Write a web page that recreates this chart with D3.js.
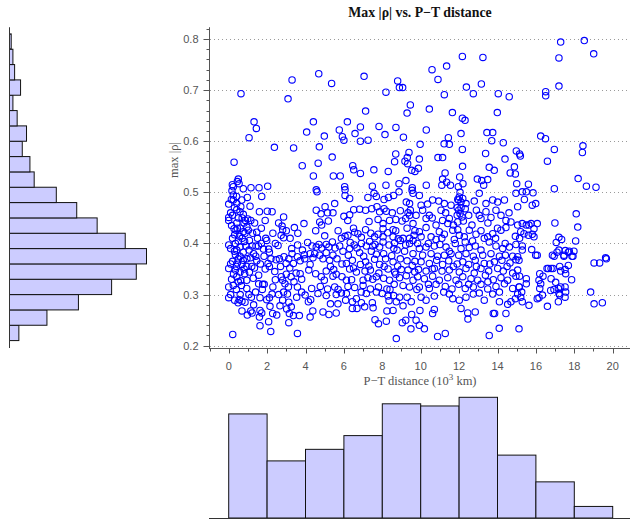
<!DOCTYPE html>
<html><head><meta charset="utf-8">
<script src="https://cdn.jsdelivr.net/npm/d3@7"></script>
<style>body{margin:0;background:#fff;overflow:hidden}</style>
</head><body>
<svg id="c" width="630" height="521"></svg>
<script>
// ---- data ----
const distance_maxRho = [
// upper band, x 0..10
[0.64,.693],[3.3,.72],[3.09,.683],[4.69,.732],[5.36,.713],[7.05,.727],[8.8,.718],[8.89,.705],[9.06,.705],[8.19,.696],[7.13,.659],[9.46,.671],[9.29,.655],[1.32,.638],[1.44,.625],[1.06,.607],[4.41,.638],[4.06,.618],[4.98,.61],[6.18,.638],[5.76,.622],[5.92,.609],[6.0,.602],[6.58,.615],[6.86,.628],[6.86,.6],[7.26,.602],[7.83,.629],[8.14,.613],[8.71,.627],[9.1,.608],[9.97,.594],
[2.38,.588],[3.38,.587],[4.72,.589],[0.28,.559],[3.83,.552],[4.66,.557],[5.39,.569],[4.41,.532],[5.45,.532],[5.81,.532],[6.46,.552],[6.51,.544],[6.86,.537],[7.56,.544],[8.31,.541],[8.64,.56],[8.7,.575],[9.39,.578],[9.3,.568],[9.18,.561],[9.32,.556],[9.53,.543],[9.7,.541],[9.88,.547],[9.23,.523],[8.87,.517],[8.19,.514],[7.48,.512],[6.04,.511],[4.56,.505],[2.03,.512],[0.5,.526],[0.45,.521],[0.19,.515],[0.24,.511],[0.54,.517],[1.16,.509],[1.58,.509],[0.76,.507],[9.56,.509],
// upper band, x 10..20
[17.29,.794],[18.52,.797],[19.01,.771],[17.2,.763],[12.17,.766],[13.24,.764],[10.59,.74],[11.35,.747],[10.9,.721],[13.16,.712],[12.38,.706],[12.74,.693],[11.23,.691],[14.04,.693],[14.61,.687],[16.51,.697],[16.51,.689],[17.2,.708],[10.45,.663],[11.65,.656],[12.17,.645],[12.31,.641],[13.99,.656],[10.29,.622],[12.1,.615],[13.45,.617],[13.75,.617],[13.7,.601],[14.3,.597],[11.44,.607],[11.22,.595],[11.49,.594],[16.25,.61],[16.5,.605],[16.96,.584],[18.45,.591],[18.42,.578],[12.17,.584],[13.38,.576],[10.9,.568],[11.14,.568],[9.93,.565],[14.98,.581],[15.15,.575],[15.19,.571],[14.39,.565],[16.6,.561],[12.18,.551],[13.57,.549],[13.83,.543],[14.88,.55],[14.66,.538],[14.93,.536],[11.27,.538],[12.03,.53],[12.95,.526],[13.18,.523],[13.49,.525],[11.14,.526],[11.35,.52],[12.2,.517],[15.0,.517],[15.61,.516],[18.2,.527],[18.63,.512],[19.13,.51],[10.29,.514],[11.1,.514],[11.55,.514],[11.96,.511],[13.28,.514],[16.96,.507],
// dense band, x 0..4.5
[1.72,.492],[0.14,.486],[0,.477],[0.24,.485],[0.42,.478],[0.68,.485],[0.97,.49],[1.11,.473],[0.63,.472],
[0.42,.466],[0.59,.462],[0.76,.457],[0,.451],[0,.445],[0.87,.445],[0.99,.448],[1.15,.445],[1.6,.462],[2.01,.463],[2.26,.462],[2.86,.452],[0.8,.44],[0.95,.432],[0.42,.44],
[0.28,.429],[0.38,.426],[0.76,.423],[1.02,.426],[1.46,.422],[0.31,.417],[0.56,.414],[2.78,.434],[2.81,.427],[2.73,.416],[3.42,.431],[3.92,.439],[1.93,.41],[1.98,.406],[2.86,.411],[2.57,.396],
[0,.397],[0.35,.4],[0.59,.393],[0.83,.404],[1.08,.406],[1.22,.395],[1.42,.395],[0.42,.387],[0.76,.383],[1.06,.387],[1.81,.389],[2.08,.389],[2.43,.4],[2.12,.383],[1.41,.375],[3.28,.39],[3.59,.397],[3.84,.387],[4.11,.402],[4.34,.395],[3.94,.378],[4.24,.38],[4.39,.372],
[0.35,.378],[0.59,.375],[0.76,.367],[0.45,.362],[0.69,.359],[0.94,.355],[1.13,.372],[1.46,.366],[1.84,.375],[2.05,.361],[2.12,.355],[2.47,.368],[2.64,.37],[2.88,.374],[2.99,.361],[3.13,.37],[3.37,.361],[3.58,.374],[3.72,.366],[3.96,.37],[4.24,.359],[0,.351],[0.35,.348],[0.59,.344],[0.83,.341],[1.08,.344],[1.34,.352],[1.56,.338],[3.18,.352],[3.51,.342],[3.72,.341],[4.17,.348],
[0.42,.335],[0.63,.327],[0.94,.328],[1.28,.332],[1.56,.321],[1.77,.32],[2.43,.329],[2.74,.335],[2.81,.328],[2.93,.321],[3.11,.315],[3.25,.335],[3.58,.315],[0,.315],[0.24,.318],[0.66,.318],[0.94,.312],[1.18,.295],[2.26,.301],[2.12,.294],[3.06,.301],[2.86,.305],[3.54,.295],[3.98,.299],[4.32,.312],
[0,.294],[0.31,.289],[0.49,.284],[0.69,.287],[1.63,.294],[1.98,.29],[2.15,.277],[2.67,.278],[2.81,.289],[3.13,.285],[3.26,.276],[3.02,.272],[0.69,.268],[1.15,.268],[1.22,.264],[1.63,.269],[1.72,.264],[0.97,.26],[1.6,.256],[2.29,.263],[2.5,.26],[3.16,.263],[3.37,.259],[3.68,.259],[4.15,.286],[4.27,.29],[4.38,.268],[4.24,.256],
[2.08,.247],[1.63,.239],[2.19,.228],[3.13,.245],[0.21,.222],[3.58,.224],
[0.17,.503],[0.24,.495],[0.41,.492],[0.3,.47],[0.1,.46],[0.2,.455],[0.5,.45],[0.15,.435],[0.45,.43],[0.2,.41],[0.5,.405],[0.1,.39],[0.3,.385],[0.5,.37],[0.2,.365],[0.1,.36],[0.4,.355],[0.25,.34],[0.5,.325],[0.15,.33],[0.4,.31],[0.6,.3],[0.1,.3],[0.55,.29],[0.8,.35],[0.85,.42],[0.7,.45],[0.9,.395],
[1.25,.42],[1.35,.44],[1.7,.43],[1.9,.445],[1.5,.41],[1.3,.38],[1.65,.36],[1.9,.35],[1.2,.355],[1.75,.31],[1.4,.305],[1.05,.3],[0.85,.285],[1.3,.28],[0.6,.43],[0.7,.41],[0.95,.37],[1.55,.395],[1.7,.4],[1.85,.32],
[2.3,.42],[2.6,.44],[3.0,.425],[3.2,.41],[3.6,.42],[2.4,.345],[2.7,.355],[3.0,.34],[3.4,.325],[3.8,.33],[2.3,.315],[2.6,.3],[3.8,.305],[3.3,.38],[2.2,.37],
// dense band, x 4.5..9.8
[4.6,.501],[6.06,.505],[6.3,.488],[6.06,.494],[7.25,.49],[7.57,.498],[7.69,.492],[8.09,.486],[8.32,.49],[8.59,.494],[8.87,.501],[9.55,.504],[9.6,.498],[9.25,.481],[9.42,.478],[5.52,.478],[5.02,.472],[4.56,.465],
[4.81,.458],[5.15,.46],[5.43,.46],[4.74,.442],[4.84,.436],[5.19,.444],[6.0,.453],[6.2,.445],[6.3,.456],[6.51,.466],[6.82,.467],[7.13,.465],[7.45,.468],[7.72,.472],[8.09,.468],[7.86,.462],[8.21,.463],[8.52,.46],[8.94,.464],[9.34,.46],[9.46,.465],[7.31,.443],[7.78,.447],[8.04,.439],[8.38,.445],[8.7,.447],[9.03,.444],[9.22,.449],[9.42,.455],[9.6,.439],[9.29,.43],[8.56,.427],[8.04,.429],
[4.53,.425],[6.06,.414],[6.21,.416],[6.56,.422],[6.73,.419],[7.13,.427],[6.91,.412],[7.6,.413],[7.78,.418],[8.04,.413],[8.28,.421],[8.56,.413],[8.83,.409],[9.08,.41],[9.42,.41],[9.65,.416],[5.87,.41],[5.4,.403],[5.08,.398],[4.7,.398],
[4.56,.393],[4.84,.391],[5.22,.393],[5.54,.391],[5.78,.395],[6.33,.402],[6.54,.397],[6.68,.391],[6.91,.4],[7.17,.395],[7.34,.404],[7.62,.398],[7.86,.393],[8.04,.403],[8.35,.397],[8.64,.401],[8.94,.406],[9.22,.397],[9.42,.4],[9.6,.406],[4.48,.38],[4.74,.377],[5.08,.382],[5.43,.377],[5.95,.385],[6.23,.377],[6.82,.382],[7.03,.375],[7.43,.385],[7.69,.379],[8.07,.38],[8.49,.376],[8.77,.387],[9.16,.385],[9.6,.38],
[4.91,.37],[5.26,.367],[5.64,.37],[6.13,.361],[6.44,.367],[6.86,.359],[7.13,.364],[7.6,.369],[7.86,.359],[8.17,.37],[8.56,.364],[8.94,.37],[9.29,.366],[9.56,.357],[4.53,.341],[5.08,.346],[5.47,.349],[5.6,.34],[6.3,.35],[6.65,.344],[7.1,.346],[7.38,.348],[7.82,.342],[8.3,.35],[8.64,.344],[8.99,.349],[9.34,.348],[9.69,.344],
[4.82,.335],[4.98,.328],[5.43,.336],[6.13,.328],[6.4,.329],[7.0,.328],[7.25,.333],[7.69,.335],[8.07,.332],[8.38,.328],[8.9,.333],[9.25,.337],[9.6,.328],[4.77,.316],[5.15,.311],[5.52,.315],[6.21,.316],[6.56,.314],[7.0,.318],[7.38,.311],[7.8,.315],[8.24,.311],[8.62,.32],[9.08,.318],[9.42,.315],
[4.65,.302],[5.08,.298],[5.6,.3],[5.87,.303],[6.13,.302],[6.65,.292],[7.17,.302],[7.69,.305],[8.0,.302],[8.3,.297],[8.59,.298],[8.9,.295],[9.29,.295],[9.51,.286],[5.3,.282],[5.69,.282],[6.09,.289],[6.44,.286],[6.91,.284],[7.48,.284],[8.35,.288],[8.73,.286],[9.08,.278],
[4.91,.266],[5.22,.261],[5.6,.264],[6.44,.273],[6.68,.273],[7.08,.276],[7.52,.274],[8.24,.268],[8.56,.269],[9.53,.261],[9.22,.25],[9.04,.245],[7.62,.251],[7.8,.243],[8.21,.248],[9.49,.233],[8.73,.214],
[5.0,.415],[5.7,.425],[6.5,.43],[7.4,.42],[8.7,.425],[9.7,.425],[5.3,.355],[5.9,.36],[6.5,.352],[7.3,.356],[8.1,.355],[8.8,.356],[9.7,.365],[5.7,.31],[6.9,.305],[8.4,.31],[9.8,.31],[6.3,.39],[7.5,.395],[8.6,.39],[5.9,.335],[7.5,.33],[8.7,.34],
// dense band, x 9.8..15.2
[12.01,.491],[11.98,.485],[12.1,.481],[11.93,.486],[12.19,.488],[13.05,.498],[13.4,.478],[13.75,.485],[14.01,.481],[14.36,.485],[14.96,.498],[15.05,.472],[9.93,.494],[10.62,.485],[10.94,.483],[10.02,.475],[10.36,.477],[11.23,.478],[11.58,.475],[12.36,.478],[12.79,.483],
[9.76,.455],[10.1,.465],[10.45,.455],[10.28,.449],[11.06,.465],[11.14,.445],[11.49,.449],[11.41,.439],[11.98,.465],[12.05,.458],[12.15,.452],[11.93,.442],[12.22,.444],[12.32,.468],[13.05,.455],[13.14,.449],[13.4,.462],[13.66,.451],[13.92,.465],[14.18,.455],[14.44,.445],[14.7,.442],[15.05,.436],[12.67,.436],[10.8,.436],[11.7,.436],
[9.93,.423],[10.28,.431],[10.54,.413],[10.97,.423],[11.23,.418],[11.67,.426],[11.93,.427],[12.01,.416],[12.27,.413],[12.53,.426],[12.88,.418],[13.14,.425],[13.49,.413],[13.75,.419],[14.18,.426],[14.44,.431],[14.93,.414],[10.02,.413],[10.8,.408],[11.75,.408],[13.31,.41],
[9.84,.4],[9.93,.39],[10.28,.393],[10.71,.395],[11.0,.398],[11.32,.393],[11.49,.385],[11.8,.4],[12.1,.39],[12.32,.403],[12.53,.392],[12.84,.395],[13.14,.387],[13.57,.403],[13.92,.395],[14.27,.39],[14.62,.393],[14.96,.398],[10.1,.377],[10.54,.38],[10.88,.375],[11.23,.377],[11.58,.38],[11.98,.377],[12.36,.38],[12.74,.375],[13.23,.377],[13.66,.38],[14.1,.375],[14.41,.377],[14.79,.375],[15.05,.374],
[10.02,.364],[10.45,.361],[10.83,.367],[11.14,.359],[11.46,.366],[11.7,.355],[12.19,.364],[12.5,.359],[12.84,.367],[13.31,.361],[13.84,.364],[14.23,.367],[14.65,.362],[14.96,.368],[9.89,.349],[10.28,.346],[10.71,.351],[11.11,.346],[11.49,.348],[12.01,.344],[12.36,.351],[12.79,.342],[13.14,.351],[13.54,.346],[14.01,.351],[14.3,.346],[14.79,.342],[15.05,.348],
[9.84,.335],[10.19,.331],[10.62,.336],[10.97,.328],[11.41,.333],[11.84,.328],[12.19,.335],[12.62,.331],[12.97,.328],[13.37,.338],[13.78,.329],[14.18,.333],[14.53,.328],[14.96,.336],[9.93,.315],[10.45,.312],[10.8,.32],[11.28,.316],[11.63,.311],[11.98,.32],[12.32,.312],[12.74,.315],[13.14,.32],[13.49,.311],[13.92,.316],[14.36,.321],[14.79,.312],[15.14,.315],
[10.02,.295],[10.28,.289],[10.71,.297],[11.49,.301],[11.67,.292],[12.01,.289],[12.36,.295],[12.74,.301],[13.05,.303],[13.31,.289],[13.75,.301],[14.1,.286],[14.53,.281],[14.7,.286],[14.93,.292],[15.05,.301],[9.96,.269],[10.62,.263],[10.71,.271],[12.1,.273],[12.45,.264],[12.84,.266],[13.78,.263],[13.85,.263],[14.44,.263],
[9.76,.25],[9.93,.24],[10.19,.233],[10.88,.218],[11.28,.224],[12.46,.252],[13.57,.22],[14.09,.234],
[10.6,.45],[11.3,.46],[11.9,.47],[12.5,.455],[12.9,.465],[13.5,.44],[14.0,.43],[14.6,.46],[10.4,.4],[11.1,.41],[12.7,.405],[13.9,.41],[14.4,.4],[10.6,.35],[11.9,.36],[12.9,.355],[13.6,.36],[14.5,.355],[10.4,.32],[11.2,.305],[12.5,.32],[13.5,.325],[14.1,.305],[12.05,.5],[12.1,.47],[11.9,.455],
// x 15.2..20
[15.29,.501],[15.5,.501],[15.85,.499],[15.4,.486],[15.81,.475],[15.99,.478],[18.1,.458],[18.18,.432],[16.99,.44],
[15.29,.439],[15.5,.436],[15.64,.436],[15.75,.439],[15.9,.429],[16.07,.439],[15.21,.423],[15.38,.419],[15.61,.416],[15.81,.418],[15.9,.413],[15.15,.41],
[17.2,.412],[17.34,.408],[17.06,.402],[18.07,.405],
[15.29,.395],[15.29,.387],[15.78,.388],[15.99,.377],[16.07,.377],[16.86,.377],[17.2,.387],[17.46,.377],[17.69,.383],[17.93,.375],[17.98,.385],
[17.53,.386],[17.74,.385],[17.88,.375],[17.46,.375],[17.1,.383],[16.95,.375],
[19.63,.372],[19.67,.37],[19.03,.362],[19.32,.362],[15.12,.367],
[17.69,.357],[17.24,.355],[17.52,.349],[16.89,.351],[16.65,.351],[16.79,.351],[16.58,.351],[17.29,.346],[17.55,.341],[17.86,.329],[16.2,.341],[16.37,.336],[16.79,.331],[17.03,.324],[16.16,.328],[16.25,.321],[16.2,.312],[16.34,.299],[16.07,.292],[16.16,.294],[15.15,.336],[15.5,.331],[15.5,.321],[15.12,.315],[15.26,.305],[15.21,.295],[15.29,.286],[15.64,.279],[16.6,.277],[17.17,.286],[17.2,.302],[17.24,.299],[17.52,.315],[17.55,.305],[17.52,.295],[16.94,.31],[16.77,.308],[17.17,.312],[17.29,.315],[15.12,.233],
[18.85,.305],[19.03,.282],[19.46,.284]
];

const xTickValues = [0, 2, 4, 6, 8, 10, 12, 14, 16, 18, 20];
const yTickValues = [0.2, 0.3, 0.4, 0.5, 0.6, 0.7, 0.8];

// marginal histogram of max |rho| (bins of 0.03 from 0.21 to 0.81)
const rhoBinEdges = [0.21,0.24,0.27,0.30,0.33,0.36,0.39,0.42,0.45,0.48,0.51,0.54,0.57,0.60,0.63,0.66,0.69,0.72,0.75,0.78,0.81];
const rhoBinCounts = [11,44,81,120,149,161,136,103,79,55,29,24,15,20,9,4,13,6,4,2];

// marginal histogram of distance (bins of 2 from 0 to 20)
const distBinEdges = [0,2,4,6,8,10,12,14,16,18,20];
const distBinCounts = [144,79,95,114,158,155,167,87,50,16];

const titleText = "Max |\u03c1| vs. P\u2212T distance";
const xLabelMain = "P\u2212T distance (10";
const xLabelSup = "3";
const xLabelTail = " km)";
const yLabelText = "max |\u03c1|";

// ---- drawing ----
const svg = d3.select("#c");
const serif = "'Liberation Serif','Times New Roman',serif";
const sans = "'Liberation Sans',Arial,Helvetica,sans-serif";

const x = d3.scaleLinear().domain([-1, 21]).range([209.5, 631.9]);
const y = d3.scaleLinear().domain([0.2, 0.8]).range([345.7, 39]);

// grid
svg.append("g").selectAll("line").data(yTickValues).join("line")
  .attr("x1", 210).attr("x2", 630)
  .attr("y1", d => Math.round(y(d)) + 0.5).attr("y2", d => Math.round(y(d)) + 0.5)
  .attr("stroke", "#9a9a9a").attr("stroke-width", 1).attr("stroke-dasharray", "1,3");

// y axis
const yMinor = d3.range(0.2, 0.821, 0.02);
const gy = svg.append("g").attr("transform", "translate(209.5,0)");
gy.append("line").attr("x1", 0).attr("x2", 0).attr("y1", y(0.823)).attr("y2", 349).attr("stroke", "#555");
gy.selectAll("line.mn").data(yMinor).join("line").attr("class","mn")
  .attr("x1", -3).attr("x2", 0).attr("y1", d => Math.round(y(d))+0.5).attr("y2", d => Math.round(y(d))+0.5).attr("stroke", "#555");
gy.selectAll("line.mj").data(yTickValues).join("line").attr("class","mj")
  .attr("x1", -6).attr("x2", 0).attr("y1", d => Math.round(y(d))+0.5).attr("y2", d => Math.round(y(d))+0.5).attr("stroke", "#555");
gy.selectAll("text").data(yTickValues).join("text")
  .attr("x", -11).attr("y", d => y(d) + 4)
  .attr("text-anchor", "end").attr("font-family", sans).attr("font-size", 11).attr("fill", "#555")
  .text(d => d3.format(".1f")(d));

// x axis
const xMinor = d3.range(-1, 21.01, 1);
const gx = svg.append("g").attr("transform", "translate(0,348.5)");
gx.append("line").attr("x1", 209.5).attr("x2", 630).attr("y1", 0).attr("y2", 0).attr("stroke", "#555");
gx.selectAll("line.mn").data(xMinor).join("line").attr("class","mn")
  .attr("x1", d => Math.round(x(d))+0.5).attr("x2", d => Math.round(x(d))+0.5).attr("y1", 0).attr("y2", 3).attr("stroke", "#555");
gx.selectAll("line.mj").data(xTickValues).join("line").attr("class","mj")
  .attr("x1", d => Math.round(x(d))+0.5).attr("x2", d => Math.round(x(d))+0.5).attr("y1", 0).attr("y2", 5).attr("stroke", "#555");
gx.selectAll("text").data(xTickValues).join("text")
  .attr("x", d => x(d)).attr("y", 21)
  .attr("text-anchor", "middle").attr("font-family", sans).attr("font-size", 11).attr("fill", "#555")
  .text(d => d);

// points
svg.append("g").selectAll("circle").data(distance_maxRho).join("circle")
  .attr("cx", d => x(d[0])).attr("cy", d => y(d[1])).attr("r", 3.2)
  .attr("fill", "none").attr("stroke", "#0000ff").attr("stroke-width", 1.1);

// titles
svg.append("text").attr("x", 420).attr("y", 17).attr("text-anchor", "middle")
  .attr("font-family", serif).attr("font-weight", "bold").attr("font-size", 13.8).attr("fill", "#111")
  .text(titleText);
const xl = svg.append("text").attr("x", 420).attr("y", 385).attr("text-anchor", "middle")
  .attr("font-family", serif).attr("font-size", 12.5).attr("fill", "#555");
xl.append("tspan").text(xLabelMain);
xl.append("tspan").attr("dy", -5).attr("font-size", 9).text(xLabelSup);
xl.append("tspan").attr("dy", 5).text(xLabelTail);
svg.append("text").attr("transform", "translate(178,160) rotate(-90)").attr("text-anchor", "middle")
  .attr("font-family", serif).attr("font-size", 12.5).attr("fill", "#555").text(yLabelText);

// left marginal histogram
const hx = d3.scaleLinear().domain([0, 161]).range([9.5, 146.5]);
const leftBins = rhoBinCounts.map((c, i) => ({c, y0: rhoBinEdges[i], y1: rhoBinEdges[i+1]}));
svg.append("g").selectAll("rect").data(leftBins).join("rect")
  .attr("x", hx(0)).attr("y", d => y(d.y1)).attr("width", d => hx(d.c) - hx(0)).attr("height", d => y(d.y0) - y(d.y1))
  .attr("fill", "#ccccff").attr("stroke", "#111").attr("stroke-width", 1);
svg.append("line").attr("x1", 9.5).attr("x2", 9.5).attr("y1", y(0.823)).attr("y2", 348).attr("stroke", "#333");

// bottom marginal histogram
const hy = d3.scaleLinear().domain([0, 167]).range([518, 397.3]);
const botBins = distBinCounts.map((c, i) => ({c, x0: distBinEdges[i], x1: distBinEdges[i+1]}));
svg.append("g").selectAll("rect").data(botBins).join("rect")
  .attr("x", d => x(d.x0)).attr("y", d => hy(d.c)).attr("width", d => x(d.x1) - x(d.x0)).attr("height", d => hy(0) - hy(d.c))
  .attr("fill", "#ccccff").attr("stroke", "#111").attr("stroke-width", 1);
svg.append("line").attr("x1", 209).attr("x2", 630).attr("y1", 518.5).attr("y2", 518.5).attr("stroke", "#333");
</script>
</body></html>
